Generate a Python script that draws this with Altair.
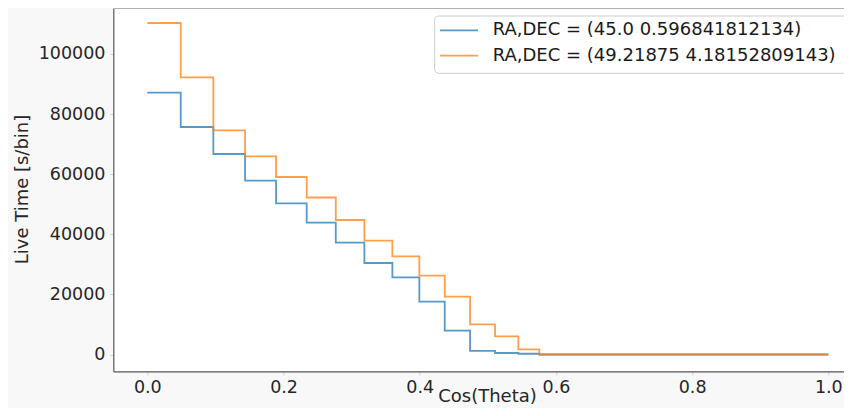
import altair as alt
import pandas as pd

# ---- data ----
edges = [0.0, 0.049, 0.0969, 0.1435, 0.189, 0.234, 0.2767, 0.3187, 0.3598,
         0.3994, 0.4367, 0.4739, 0.5106, 0.5448, 0.5756, 1.0]
blue_vals = [87120, 75710, 66720, 57840, 50320, 43860, 37200, 30450, 25690,
             17570, 7920, 1200, 500, 250, 0, 0]
orange_vals = [110320, 92250, 74610, 65960, 59070, 52250, 44760, 37870, 32680,
               26220, 19230, 10050, 6060, 1730, 0, 0]
series = ["RA,DEC = (45.0 0.596841812134)", "RA,DEC = (49.21875 4.18152809143)"]
colors = ["#1f77b4", "#ff7f0e"]
x_ticks = [0.0, 0.2, 0.4, 0.6, 0.8, 1.0]
y_ticks = [0, 20000, 40000, 60000, 80000, 100000]

rows = []
for name, vals in zip(series, [blue_vals, orange_vals]):
    for i, (e, v) in enumerate(zip(edges, vals)):
        rows.append({"series": name, "x": e, "y": v, "order": i})
df = pd.DataFrame(rows)

FONT = "DejaVu Sans"
W, H = 730.7, 363.3
color_scale = alt.Scale(domain=series, range=colors)

lines = alt.Chart(df).mark_line(
    interpolate="step-after", strokeWidth=1.8, opacity=0.75
).encode(
    x=alt.X("x:Q",
            scale=alt.Scale(domain=[-0.05, 1.023], nice=False, zero=False),
            axis=alt.Axis(values=x_ticks, format=".1f", title="Cos(Theta)",
                          titleX=373.7, titleY=25.5, titleBaseline="middle",
                          titleAlign="center", labelPadding=4)),
    y=alt.Y("y:Q",
            scale=alt.Scale(domain=[-5590, 115307], nice=False, zero=False),
            axis=alt.Axis(values=y_ticks, format="d", title="Live Time [s/bin]",
                          titleX=-90.5, titleY=181, titleAngle=270,
                          titleBaseline="middle", titleAlign="center",
                          labelPadding=4.8)),
    color=alt.Color("series:N", scale=color_scale, legend=None),
    detail="series:N",
    order="order:Q",
)

# top frame line of the plot area
top_line = alt.Chart(pd.DataFrame({"a": [0]})).mark_rule(
    color="#b0b0b0", strokeWidth=1
).encode(x=alt.value(0), x2=alt.value(W), y=alt.value(0.5))

# ---- legend drawn by hand (matplotlib style box) ----
box = alt.Chart(pd.DataFrame({"a": [0]})).mark_rect(
    fill="white", fillOpacity=0.8, stroke="#cccccc", strokeWidth=1, cornerRadius=4
).encode(x=alt.value(321.4), x2=alt.value(734), y=alt.value(8), y2=alt.value(65.3))

legend_layers = [box]
for i, name in enumerate(series):
    yy = 22.3 + 25.4 * i
    d = pd.DataFrame({"series": [name]})
    legend_layers.append(
        alt.Chart(d).mark_rule(strokeWidth=1.8, opacity=0.75).encode(
            x=alt.value(326.7), x2=alt.value(364.7), y=alt.value(yy),
            color=alt.Color("series:N", scale=color_scale, legend=None))
    )
    legend_layers.append(
        alt.Chart(d).mark_text(align="left", baseline="middle", fontSize=18,
                               font=FONT, color="#1a1a1a").encode(
            x=alt.value(379.4), y=alt.value(yy), text="series:N")
    )

chart = alt.layer(lines, top_line, *legend_layers).properties(
    width=W, height=H,
    autosize=alt.AutoSizeParams(type="none"),
    padding={"left": 105.3, "top": 0, "right": 0, "bottom": 36.7},
    background="#f8f8f8",
).configure_view(
    fill="white", strokeWidth=0
).configure_axis(
    labelFont=FONT, titleFont=FONT, labelFontSize=17.5, titleFontSize=18,
    labelColor="#262626", titleColor="#262626", titleFontWeight="normal",
    grid=False, domainColor="#555555", domainWidth=1.2,
    tickColor="#cfcfcf", tickSize=3.5, tickWidth=1,
)

chart.save("out.html", embed_options={"renderer": "svg", "actions": False})
